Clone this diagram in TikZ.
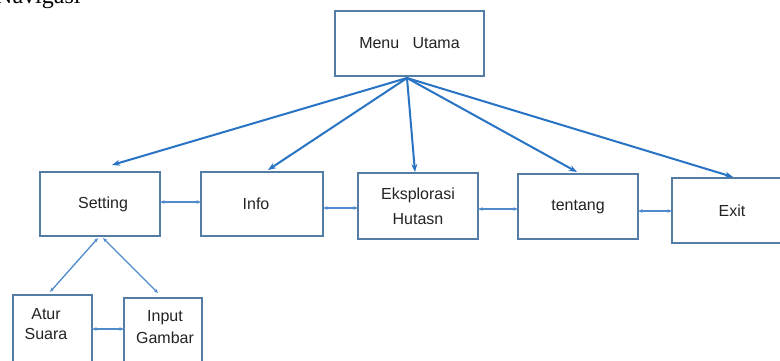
\documentclass[tikz,border=0pt]{standalone}
\usepackage{fontspec}
\setmainfont{Liberation Sans}
\newfontfamily\serifnav{Liberation Serif}
\usetikzlibrary{arrows.meta}
\definecolor{boxline}{RGB}{84,124,164}
\definecolor{arrline}{RGB}{40,115,195}
\definecolor{harrline}{RGB}{80,140,205}
\definecolor{txt}{RGB}{35,35,35}
\begin{document}
\begin{tikzpicture}[x=1pt,y=-1pt,
  box/.style={draw=boxline,line width=1.5pt,inner sep=0pt,outer sep=0pt,fill=white,
    text=txt,align=center,font=\fontsize{16}{25}\selectfont},
  lbl/.style={inner sep=0pt,text=txt,align=center},
  arr/.style={draw=arrline,line width=2pt,-{Stealth[length=8pt,width=6pt]}},
  harr/.style={draw=harrline,line width=1.3pt,{Stealth[length=4.5pt,width=3.5pt]}-{Stealth[length=4.5pt,width=3.5pt]}}]
\useasboundingbox (0,0) rectangle (780,360);
\fill[white] (0,0) rectangle (780,360);
\node[anchor=base west,font=\serifnav\fontsize{24}{24}\selectfont,text=black,inner sep=0pt] (title) at (-5,3) {Navigasi};
\node[box,minimum width=149pt,minimum height=65pt] (menu) at (409.5,43.5) {Menu\ \ \ Utama};
\node[box,minimum width=120pt,minimum height=64pt] (setting) at (100,204) {\hspace*{6pt}Setting};
\node[box,minimum width=122pt,minimum height=64pt] (info) at (262,204) {\hspace*{-12pt}Info};
\node[box,minimum width=120pt,minimum height=66pt] (eks) at (418,206) {Eksplorasi\\Hutasn};
\node[box,minimum width=120pt,minimum height=65pt] (tentang) at (578,206.5) {tentang};
\node[box,minimum width=110pt,minimum height=65pt] (exit) at (727,210.5) {\hspace*{10pt}Exit};
\node[box,minimum width=79pt,minimum height=70pt] (atur) at (52.5,330) {};
\node[box,minimum width=78pt,minimum height=67pt] (input) at (163,331.5) {};
\node[lbl,font=\fontsize{16}{20}\selectfont] (aturtxt) at (46,324) {Atur\\Suara};
\node[lbl,font=\fontsize{16}{22}\selectfont] (inputtxt) at (165,327) {Input\\Gambar};
\coordinate (hub) at ([xshift=-2.5pt,yshift=-2pt]menu.south);
\draw[arr] (hub) -- ([xshift=12pt,yshift=7pt]setting.north);
\draw[arr] (hub) -- ([xshift=6pt,yshift=2pt]info.north);
\draw[arr] (hub) -- ([xshift=-3pt,yshift=1pt]eks.north);
\draw[arr] (hub) -- ([xshift=-1pt,yshift=2pt]tentang.north);
\draw[arr] (hub) -- ([xshift=6pt,yshift=1pt]exit.north);
\draw[harr] ([yshift=2pt]setting.east) -- ([yshift=2pt]info.west);
\draw[harr] ([yshift=-4pt]info.east) -- ([yshift=-2pt]eks.west);
\draw[harr] ([yshift=-3pt]eks.east) -- ([yshift=-2.5pt]tentang.west);
\draw[harr] ([yshift=-4.5pt]tentang.east) -- ([yshift=-0.5pt]exit.west);
\draw[harr] ([xshift=-2pt,yshift=-2pt]setting.south) -- ([xshift=-2.5pt,yshift=3pt]atur.north);
\draw[harr] ([xshift=3pt,yshift=-2pt]setting.south) -- ([xshift=-5pt,yshift=5pt]input.north);
\draw[harr] ([yshift=1pt]atur.east) -- ([yshift=2.5pt]input.west);
\end{tikzpicture}
\end{document}
